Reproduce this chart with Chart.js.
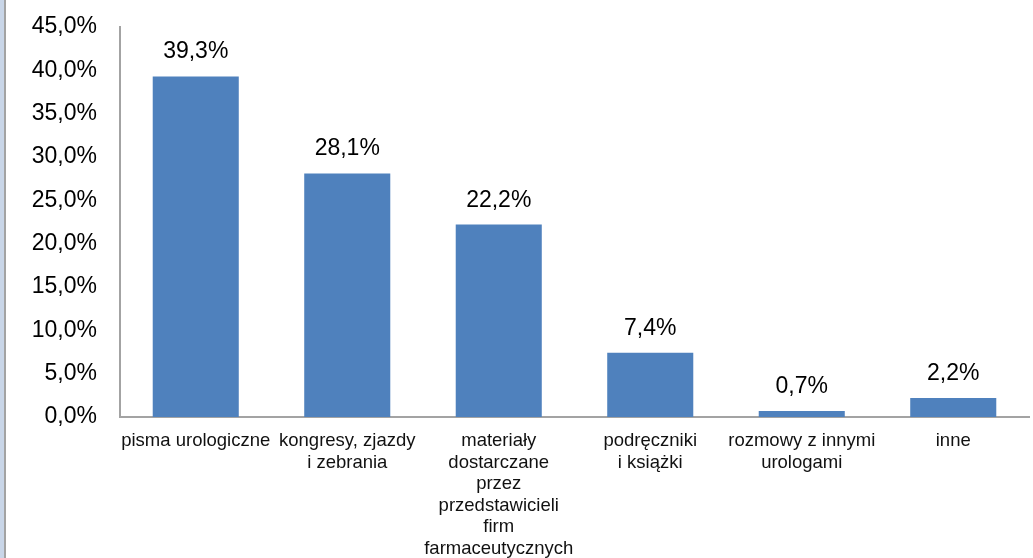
<!DOCTYPE html>
<html>
<head>
<meta charset="utf-8">
<script src="https://cdn.jsdelivr.net/npm/chart.js@4/dist/chart.umd.min.js"></script>
<style>
  html, body { margin: 0; padding: 0; background: #ffffff; }
  #wrap { position: relative; width: 1033px; height: 558px; }
  #edge { position: absolute; left: 0; top: 0; width: 4px; height: 558px; background: #c9d6e8; }
  #edgeLine { position: absolute; left: 4px; top: 0; width: 2px; height: 558px; background: #a3a3a3; }
  canvas { position: absolute; left: 0; top: 0; }
</style>
</head>
<body>
<div id="wrap">
  <canvas id="chart" width="1033" height="558"></canvas>
  <div id="edge"></div>
  <div id="edgeLine"></div>
</div>
<script>
// Źródła informacji – odsetek odpowiedzi
const categories = [
  ['pisma urologiczne'],
  ['kongresy, zjazdy', 'i zebrania'],
  ['materiały', 'dostarczane', 'przez', 'przedstawicieli', 'firm', 'farmaceutycznych'],
  ['podręczniki', 'i książki'],
  ['rozmowy z innymi', 'urologami'],
  ['inne']
];
const values = [39.3, 28.1, 22.2, 7.4, 0.7, 2.2];
const yTicks = [0, 5, 10, 15, 20, 25, 30, 35, 40, 45];

const pct = v => v.toFixed(1).replace('.', ',') + '%';
const FONT = "'Liberation Sans', Arial, sans-serif";

const valueLabels = {
  id: 'valueLabels',
  afterDatasetsDraw(chart) {
    const ctx = chart.ctx;
    const meta = chart.getDatasetMeta(0);
    ctx.save();
    ctx.font = '23px ' + FONT;
    ctx.fillStyle = '#000000';
    ctx.textAlign = 'center';
    ctx.textBaseline = 'alphabetic';
    meta.data.forEach((bar, i) => {
      ctx.fillText(pct(values[i]), bar.x, bar.y - 18);
    });
    ctx.restore();
  }
};

new Chart(document.getElementById('chart'), {
  type: 'bar',
  data: {
    labels: categories,
    datasets: [{
      data: values,
      backgroundColor: '#4f81bd',
      borderWidth: 0,
      barPercentage: 1,
      categoryPercentage: 0.568
    }]
  },
  options: {
    responsive: false,
    animation: false,
    events: [],
    layout: { padding: { top: 27, right: 4, bottom: 0, left: 0 } },
    plugins: {
      legend: { display: false },
      tooltip: { enabled: false }
    },
    scales: {
      x: {
        grid: { display: false, drawTicks: false },
        border: { display: true, color: '#a3a3a3', width: 2 },
        ticks: {
          color: '#111111',
          font: { family: FONT, size: 18.5, lineHeight: 1.17 },
          padding: 13,
          maxRotation: 0,
          autoSkip: false
        },
        afterFit(scale) {
          scale.height = 141;
          scale.paddingLeft = 0;
          scale.paddingRight = 0;
        }
      },
      y: {
        min: 0,
        max: 45,
        afterBuildTicks(scale) { scale.ticks = yTicks.map(v => ({ value: v })); },
        grid: { display: false, drawTicks: false },
        border: { display: true, color: '#a3a3a3', width: 2 },
        ticks: {
          color: '#000000',
          font: { family: FONT, size: 23 },
          padding: 23,
          callback: v => pct(v)
        },
        afterFit(scale) {
          scale.width = 120;
          scale.paddingTop = 0;
          scale.paddingBottom = 0;
        }
      }
    }
  },
  plugins: [valueLabels]
});
</script>
</body>
</html>
